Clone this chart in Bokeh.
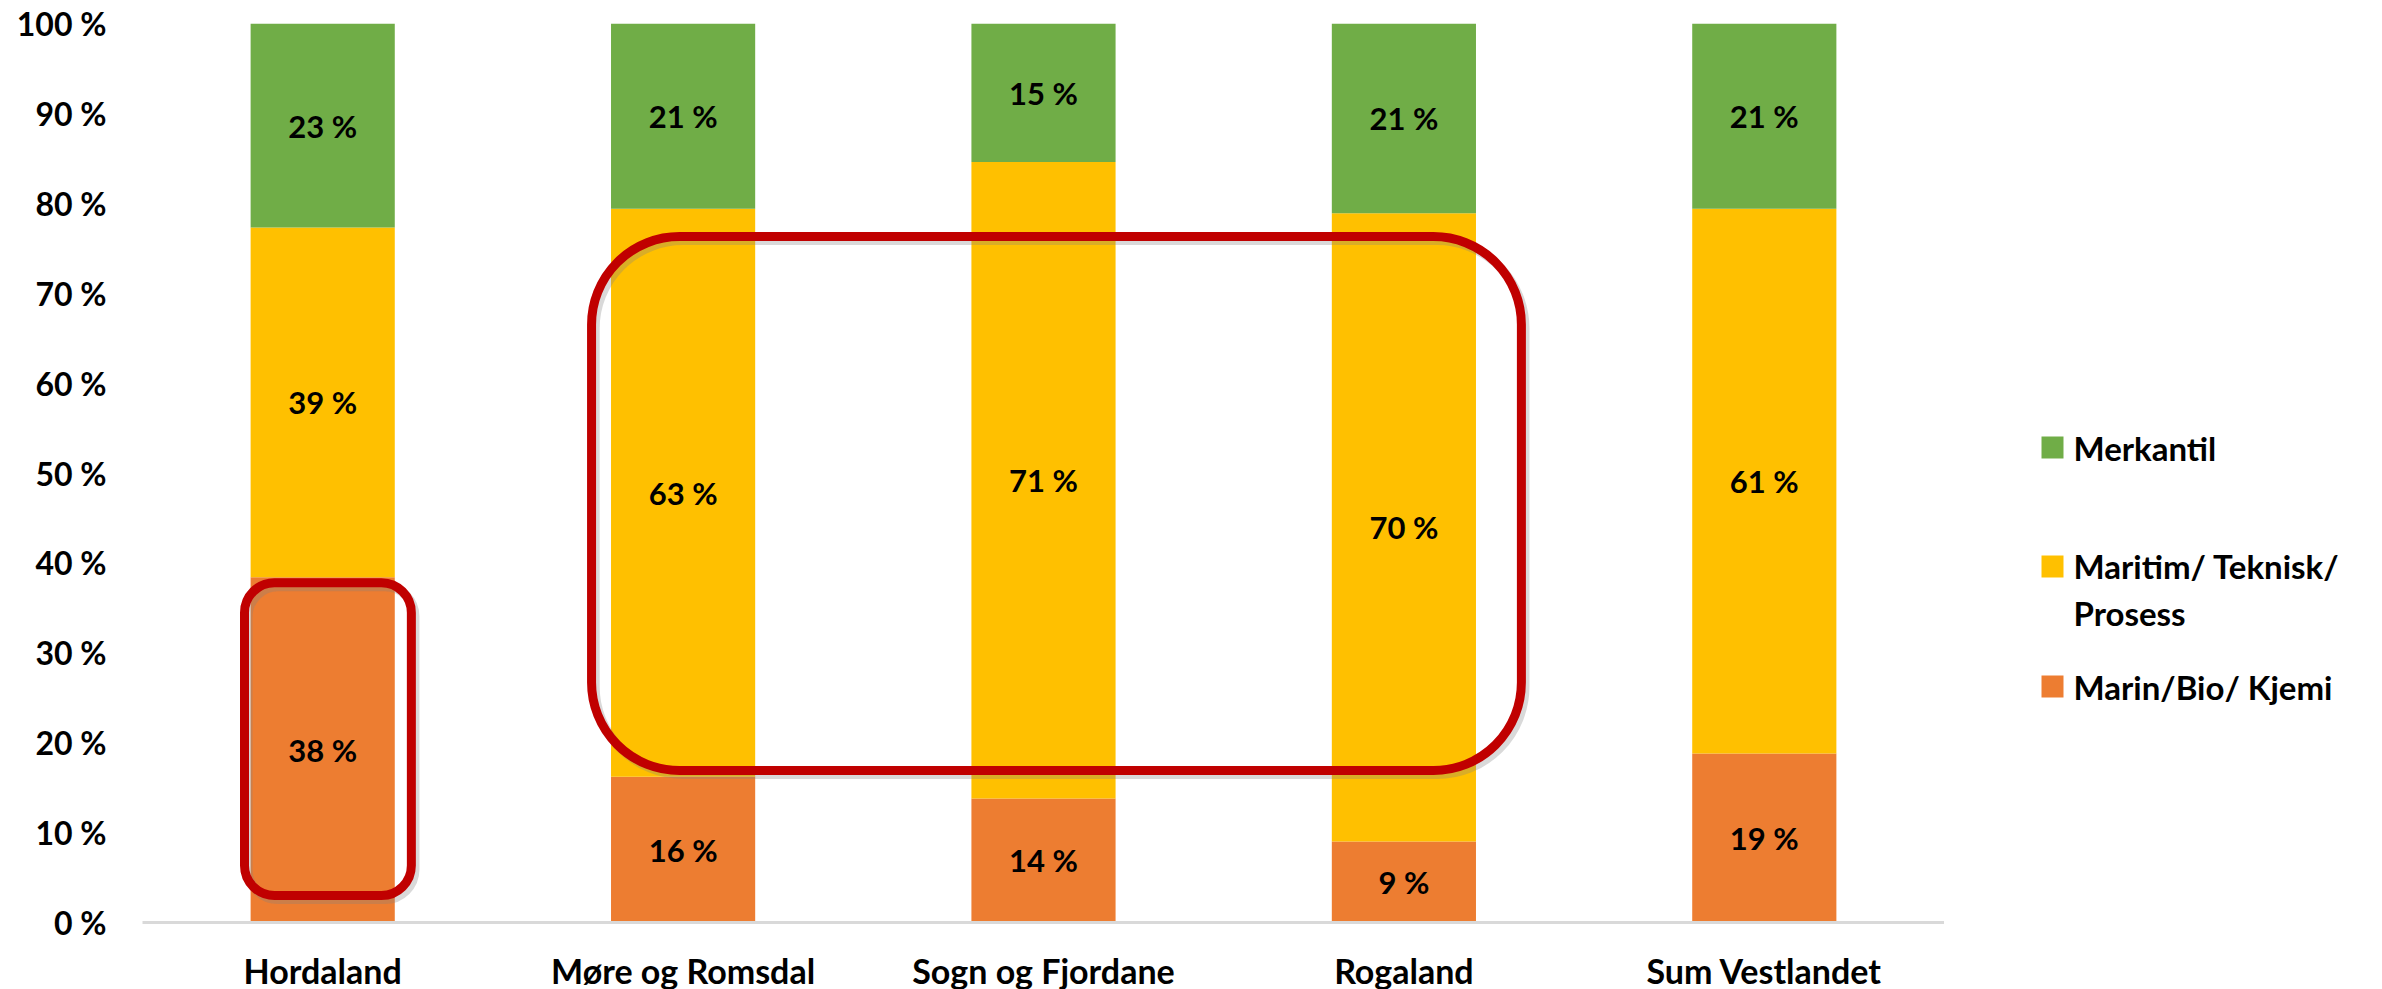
from bokeh.plotting import figure
from bokeh.layouts import row
from bokeh.models import (ColumnDataSource, BoxAnnotation, FixedTicker, Range1d, FactorRange)
from bokeh.core.properties import value
from bokeh.embed import file_html
from bokeh.resources import INLINE

# ---------------- data ----------------
categories = ["Hordaland", "Møre og Romsdal", "Sogn og Fjordane", "Rogaland", "Sum Vestlandet"]
marin = [38.4, 16.2, 13.8, 9.0, 18.8]
maritim = [38.9, 63.2, 70.8, 69.9, 60.6]
merkantil = [22.7, 20.6, 15.4, 21.1, 20.6]
series_keys = ["marin", "maritim", "merkantil"]
series_names = ["Marin/Bio/ Kjemi", "Maritim/ Teknisk/\nProsess", "Merkantil"]
colors = ["#ED7D31", "#FFC000", "#70AD47"]
y_ticks = [0, 10, 20, 30, 40, 50, 60, 70, 80, 90, 100]
y_tick_labels = ["0 %", "10 %", "20 %", "30 %", "40 %", "50 %", "60 %", "70 %", "80 %", "90 %", "100 %"]

# highlight boxes (category-axis span, y span in %)
hl_left = [0.283, 1.246]
hl_right = [0.746, 3.826]
hl_bottom = [3.0, 16.9]
hl_top = [37.8, 76.3]
hl_radius = [30, 88]

FONT = "Lato"
TOP, FRAME_H, BOTTOM = 23, 899, 67

# ---------------- main figure ----------------
p = figure(x_range=FactorRange(*categories), y_range=Range1d(0, 100),
           frame_width=1802, frame_height=FRAME_H,
           min_border_left=142, min_border_right=0, min_border_top=TOP, min_border_bottom=BOTTOM,
           output_backend="svg", toolbar_location=None)
p.outline_line_color = None
p.xgrid.grid_line_color = None
p.ygrid.grid_line_color = None

src = ColumnDataSource(dict(cat=categories, marin=marin, maritim=maritim, merkantil=merkantil))
renderers = p.vbar_stack(series_keys, x="cat", width=0.4, source=src,
                         color=colors, line_color=None)

# data labels
lab_x, lab_y, lab_t = [], [], []
for i, c in enumerate(categories):
    base = 0.0
    for vals in (marin, maritim, merkantil):
        v = vals[i]
        lab_x.append(c)
        lab_y.append(base + v / 2)
        lab_t.append(f"{round(v)} %")
        base += v
lsrc = ColumnDataSource(dict(x=lab_x, y=lab_y, t=lab_t))
p.text(x="x", y="y", text="t", source=lsrc, text_align="center", text_baseline="middle",
       text_font=value(FONT), text_font_style="bold", text_font_size="31px", text_color="black")

# highlight boxes with a faint shadow
for l, r, b, t, rad in zip(hl_left, hl_right, hl_bottom, hl_top, hl_radius):
    p.add_layout(BoxAnnotation(left=l + 0.01, right=r + 0.01, bottom=b - 0.45, top=t - 0.45,
                               fill_alpha=0, line_color="#808080", line_alpha=0.3,
                               line_width=9, border_radius=rad))
    p.add_layout(BoxAnnotation(left=l, right=r, bottom=b, top=t, fill_alpha=0,
                               line_color="#C00000", line_alpha=1.0,
                               line_width=9, border_radius=rad))

# axes
xa = p.xaxis[0]
xa.axis_line_color = "#D9D9D9"
xa.axis_line_width = 3
xa.major_tick_line_color = None
xa.minor_tick_line_color = None
xa.major_label_standoff = 21
xa.major_label_text_font = FONT
xa.major_label_text_font_style = "bold"
xa.major_label_text_font_size = "34px"
xa.major_label_text_color = "black"

ya = p.yaxis[0]
ya.ticker = FixedTicker(ticks=y_ticks)
ya.major_label_overrides = {t: s for t, s in zip(y_ticks, y_tick_labels)}
ya.axis_line_color = None
ya.major_tick_line_color = None
ya.minor_tick_line_color = None
ya.major_tick_out = 0
ya.major_tick_in = 0
ya.major_label_standoff = 36
ya.major_label_text_font = FONT
ya.major_label_text_font_style = "bold"
ya.major_label_text_font_size = "32px"
ya.major_label_text_color = "black"

# ---------------- legend panel (page-pixel coordinates, frame aligned with main) ----------------
LW = 438
lg = figure(frame_width=LW, frame_height=FRAME_H,
            x_range=Range1d(1944, 1944 + LW), y_range=Range1d(TOP + FRAME_H, TOP),
            min_border_left=0, min_border_right=0, min_border_top=TOP, min_border_bottom=BOTTOM,
            output_backend="svg", toolbar_location=None)
lg.axis.visible = False
lg.xgrid.grid_line_color = None
lg.ygrid.grid_line_color = None
lg.outline_line_color = None

leg_names = [series_names[2], series_names[1], series_names[0]]
leg_colors = [colors[2], colors[1], colors[0]]
sq_x = [2052, 2052, 2052]
sq_y = [447, 566, 686]
tx_x = [2073, 2073, 2073]
tx_y = [447, 589, 686]
lg.rect(x=sq_x, y=sq_y, width=22, height=22, width_units="screen", height_units="screen",
        color=leg_colors, line_color=None)
lg.text(x=tx_x, y=tx_y, text=leg_names, text_align="left", text_baseline="middle",
        text_font=value(FONT), text_font_style="bold", text_font_size="33px",
        text_color="black", text_line_height=1.16)

layout = row(p, lg, spacing=0)
open("out.html", "w").write(file_html(layout, INLINE))
